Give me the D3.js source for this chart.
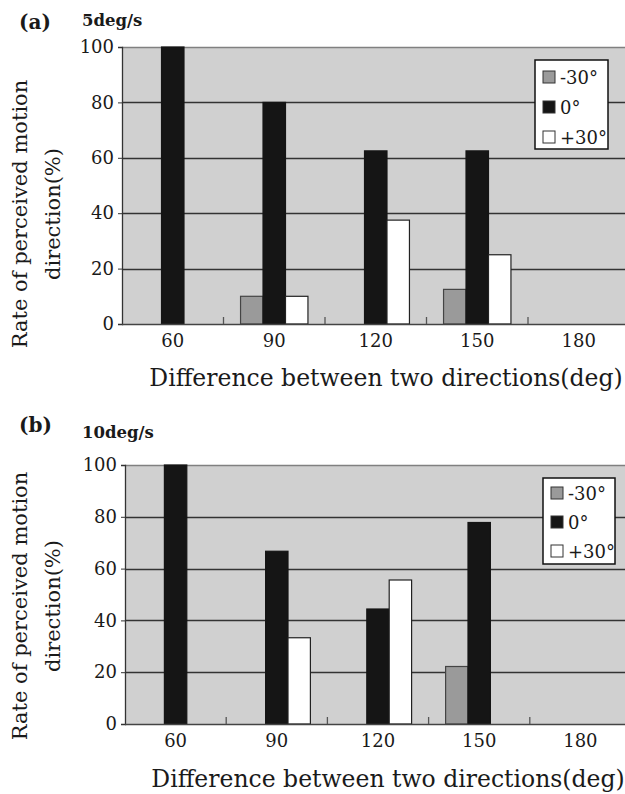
<!DOCTYPE html>
<html>
<head>
<meta charset="utf-8">
<script src="https://cdn.jsdelivr.net/npm/d3@7"></script>
<style>
  html, body { margin: 0; padding: 0; background: #fff; }
  svg { display: block; }
  text { font-family: "DejaVu Serif", "Liberation Serif", serif; fill: #1a1a1a; }
</style>
</head>
<body>
<svg id="chart" width="625" height="794"></svg>
<script>
// Direction differences (deg) on the x axis
const categories = ["60", "90", "120", "150", "180"];
// Offset conditions shown in the legend
const seriesNames = ["-30°", "0°", "+30°"];
const seriesColors = ["#9a9a9a", "#151515", "#ffffff"];
const seriesStrokes = ["#444", "#151515", "#222"];
const yTicks = [0, 20, 40, 60, 80, 100];

// Panel (a): 5 deg/s
const slowMinus30 = [0, 10, 0, 12.5, 0];
const slowZero    = [100, 80, 62.5, 62.5, 0];
const slowPlus30  = [0, 10, 37.5, 25, 0];

// Panel (b): 10 deg/s
const fastMinus30 = [0, 0, 0, 22.2, 0];
const fastZero    = [100, 66.7, 44.4, 77.8, 0];
const fastPlus30  = [0, 33.3, 55.6, 0, 0];

const svg = d3.select("#chart");

const xTitle = "Difference between two directions(deg)";
const yTitle1 = "Rate of perceived motion";
const yTitle2 = "direction(%)";

function drawPanel(opt) {
  const g = svg.append("g");
  const values = [opt.m30, opt.zero, opt.p30];

  const x = d3.scaleBand().domain(categories).range([opt.left, opt.right]).padding(0);
  const bw = x.bandwidth();
  const xi = d3.scaleBand().domain(seriesNames).range([bw * 0.168, bw * 0.832]).padding(0);
  const y = d3.scaleLinear().domain([0, 100]).range([opt.bottom, opt.top]);

  // plot background
  g.append("rect")
    .attr("x", opt.left).attr("y", opt.top)
    .attr("width", opt.right - opt.left).attr("height", opt.bottom - opt.top)
    .attr("fill", "#d0d0d0");

  // horizontal gridlines
  g.selectAll("line.grid").data(yTicks.filter(t => t > 0)).join("line")
    .attr("class", "grid")
    .attr("x1", opt.left).attr("x2", opt.right)
    .attr("y1", d => Math.round(y(d)) + 0.5).attr("y2", d => Math.round(y(d)) + 0.5)
    .attr("stroke", d => d === 100 ? "#808080" : "#333")
    .attr("stroke-width", 1.3);

  // y axis
  const yAxis = d3.axisLeft(y).tickValues(yTicks).tickSize(4).tickPadding(4);
  const ya = g.append("g").attr("transform", `translate(${opt.left},0)`).call(yAxis);
  ya.attr("font-family", null);
  ya.select(".domain").attr("stroke", "#333").attr("stroke-width", 1.3);
  ya.selectAll(".tick line").attr("stroke", "#333");
  ya.selectAll(".tick text")
    .style("font-family", '"DejaVu Serif", serif')
    .style("font-size", "18px").attr("fill", "#1a1a1a");

  // bars
  seriesNames.forEach((s, si) => {
    const rows = categories.map((c, ci) => ({ c, v: values[si][ci] })).filter(d => d.v > 0);
    g.selectAll(null).data(rows).join("rect")
      .attr("x", d => x(d.c) + xi(s))
      .attr("y", d => y(d.v))
      .attr("width", xi.bandwidth())
      .attr("height", d => y(0) - y(d.v))
      .attr("fill", seriesColors[si])
      .attr("stroke", seriesStrokes[si])
      .attr("stroke-width", 1.2);
  });

  // x axis: ticks between categories, drawn upward
  const xa = g.append("g").attr("transform", `translate(0,${opt.bottom})`);
  xa.append("line")
    .attr("x1", opt.left).attr("x2", opt.right).attr("y1", 0.5).attr("y2", 0.5)
    .attr("stroke", "#444").attr("stroke-width", 1.5);
  xa.selectAll("line.sep").data(categories.slice(1)).join("line")
    .attr("class", "sep")
    .attr("x1", d => x(d)).attr("x2", d => x(d))
    .attr("y1", 0).attr("y2", -7)
    .attr("stroke", "#555").attr("stroke-width", 1.3);
  xa.selectAll("text.cat").data(categories).join("text")
    .attr("class", "cat")
    .attr("x", d => x(d) + bw / 2)
    .attr("y", opt.catDy)
    .attr("text-anchor", "middle")
    .style("font-size", "18px")
    .text(d => d);

  // axis titles
  g.append("text")
    .attr("x", opt.xTitleX).attr("y", opt.xTitleY)
    .attr("text-anchor", "middle")
    .style("font-size", "23.5px")
    .text(xTitle);

  const yt = g.append("g").attr("transform", `translate(0,${opt.yTitleCy}) rotate(-90)`);
  yt.append("text").attr("x", 0).attr("y", 27).attr("text-anchor", "middle")
    .style("font-size", "21px").text(yTitle1);
  yt.append("text").attr("x", 0).attr("y", 60).attr("text-anchor", "middle")
    .style("font-size", "21px").text(yTitle2);

  // panel label and speed
  g.append("text").attr("x", 19).attr("y", opt.labelY)
    .style("font-size", "20px").style("font-weight", "bold").text(opt.label);
  g.append("text").attr("x", 82).attr("y", opt.speedY)
    .style("font-size", "16.5px").style("font-weight", "bold").text(opt.speed);

  // legend
  const lg = g.append("g").attr("transform", `translate(${opt.legX},${opt.legY})`);
  lg.append("rect").attr("x", 0).attr("y", 0)
    .attr("width", opt.legW).attr("height", opt.legH)
    .attr("fill", "#fff").attr("stroke", "#111").attr("stroke-width", 1.5);
  seriesNames.forEach((s, i) => {
    const cy = opt.legRow0 + i * opt.legStep;
    lg.append("rect").attr("x", 8).attr("y", cy - 6).attr("width", 12).attr("height", 12)
      .attr("fill", seriesColors[i]).attr("stroke", "#333").attr("stroke-width", 1);
    lg.append("text").attr("x", 25).attr("y", cy + 6.5)
      .style("font-size", "18px").text(s);
  });
}

drawPanel({
  m30: slowMinus30, zero: slowZero, p30: slowPlus30,
  left: 122, right: 629.5, top: 47, bottom: 324,
  catDy: 23, xTitleX: 386, xTitleY: 386, yTitleCy: 214,
  label: "(a)", labelY: 29, speed: "5deg/s", speedY: 26,
  legX: 535, legY: 60, legW: 73, legH: 89, legRow0: 17, legStep: 30
});

drawPanel({
  m30: fastMinus30, zero: fastZero, p30: fastPlus30,
  left: 125, right: 631, top: 465, bottom: 724,
  catDy: 23, xTitleX: 388, xTitleY: 787, yTitleCy: 606,
  label: "(b)", labelY: 432, speed: "10deg/s", speedY: 438,
  legX: 543, legY: 478, legW: 72, legH: 86, legRow0: 15, legStep: 29
});
</script>
</body>
</html>
